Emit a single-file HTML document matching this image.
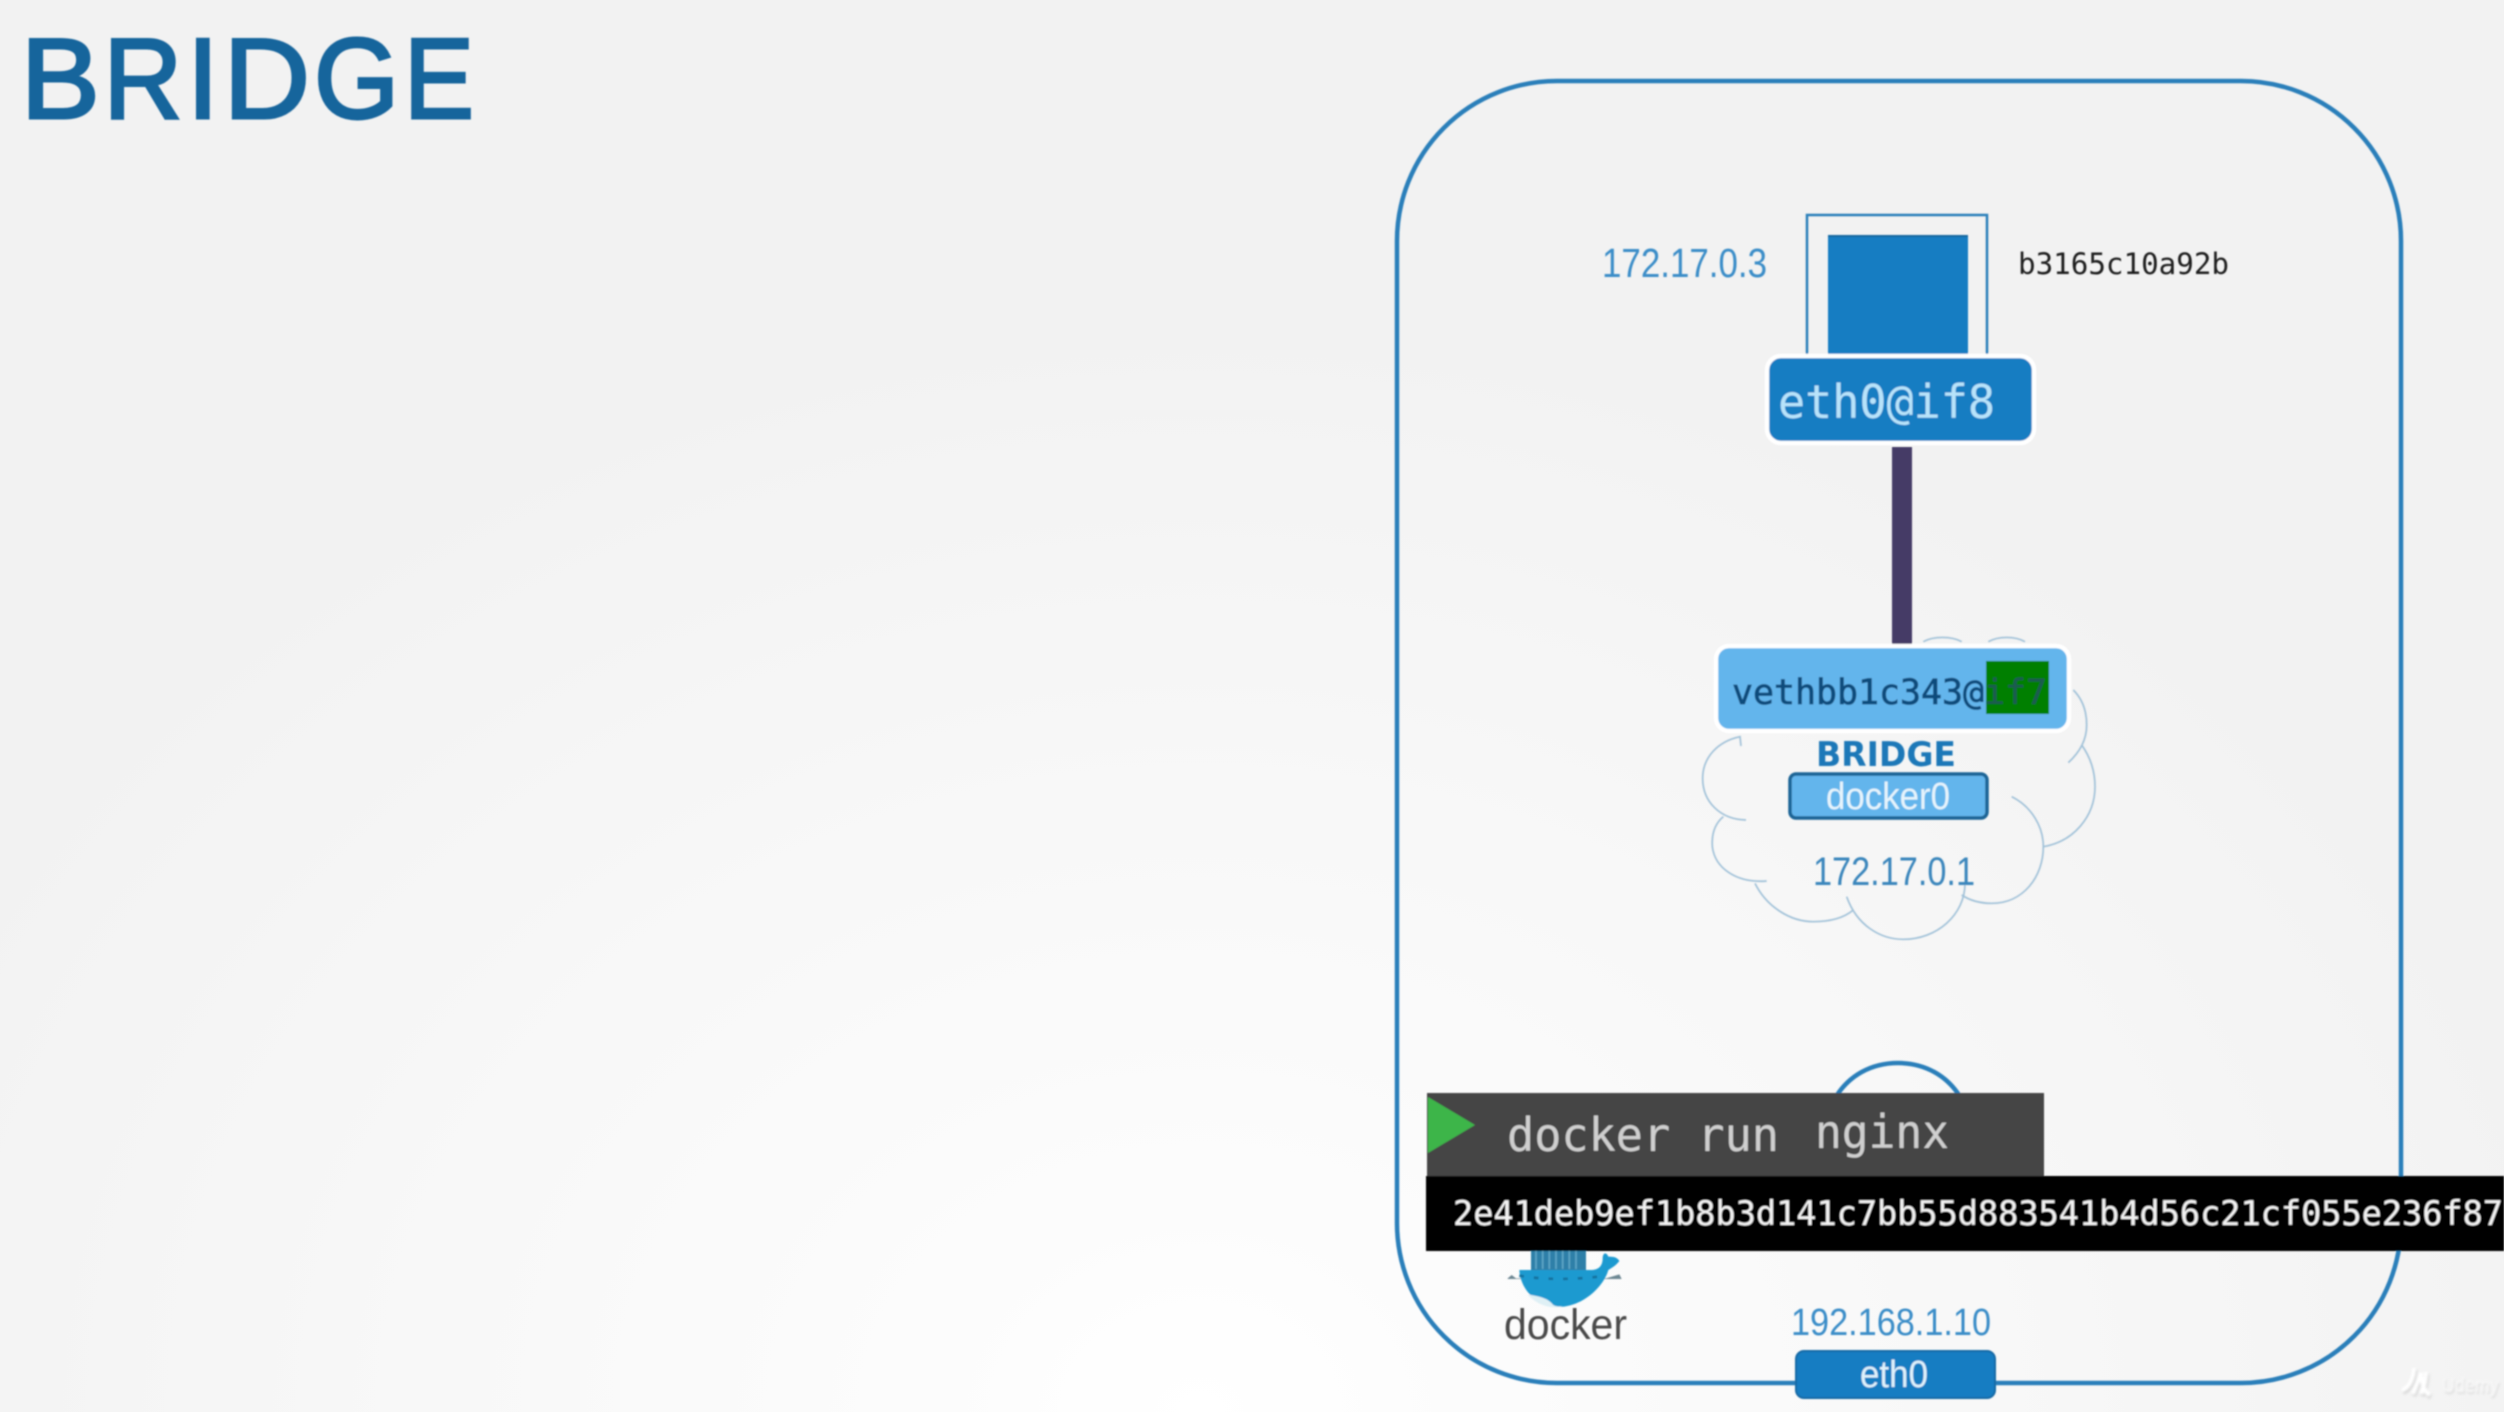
<!DOCTYPE html>
<html>
<head>
<meta charset="utf-8">
<style>
html,body{margin:0;padding:0;background:#f3f3f3;}
body{width:2504px;height:1412px;overflow:hidden;}
svg{display:block;}
.mono{font-family:"DejaVu Sans Mono","Liberation Mono",monospace;}
.sans{font-family:"Liberation Sans",sans-serif;}
.dv{font-family:"DejaVu Sans","Liberation Sans",sans-serif;}
</style>
</head>
<body>
<svg width="2504" height="1412" viewBox="0 0 2504 1412" xmlns="http://www.w3.org/2000/svg">
<defs>
<radialGradient id="bg" gradientUnits="userSpaceOnUse" cx="0" cy="0" r="1" gradientTransform="translate(1200 1412) scale(1400 1100)">
<stop offset="0" stop-color="#ffffff"/>
<stop offset=".2" stop-color="#fcfcfc"/>
<stop offset=".55" stop-color="#f8f8f8"/>
<stop offset="1" stop-color="#f2f2f2"/>
</radialGradient>
<filter id="soft" x="-5%" y="-5%" width="110%" height="110%"><feGaussianBlur stdDeviation="0.8"/></filter>
<filter id="wm" x="-20%" y="-20%" width="140%" height="140%"><feGaussianBlur stdDeviation="1.2"/></filter>
</defs>
<rect width="2504" height="1412" fill="#f2f2f2"/>
<rect width="2504" height="1412" fill="url(#bg)"/>
<g filter="url(#soft)">
<g class="sans" font-size="114" fill="#15659c" stroke="#15659c" stroke-width="3">
<text transform="translate(20.8 118) scale(1.04 1)">B</text>
<text transform="translate(103.5 118) scale(.957 1)">R</text>
<text transform="translate(187 118)">I</text>
<text transform="translate(223.6 118) scale(1.05 1)">D</text>
<text transform="translate(314 118) scale(.96 1)">G</text>
<text transform="translate(404 118) scale(.92 1)">E</text>
</g>

<rect x="1397" y="81" width="1004" height="1302" rx="160" ry="160" fill="none" stroke="#2a7fba" stroke-width="4.5"/>

<!-- container -->
<rect x="1807" y="215" width="180" height="150" fill="none" stroke="#2a7fba" stroke-width="2.5"/>
<rect x="1828" y="235" width="140" height="125" fill="#177dc2"/>
<rect x="1828" y="235" width="140" height="2" fill="#14689f"/>
<text class="sans" x="1602" y="277" font-size="41" fill="#3b8dc8" textLength="165" lengthAdjust="spacingAndGlyphs">172.17.0.3</text>
<text class="mono" x="2018" y="274" font-size="29" fill="#1c1c1c" textLength="211" lengthAdjust="spacingAndGlyphs">b3165c10a92b</text>
<rect x="1767" y="356" width="267" height="87" rx="14" fill="#177dc2" stroke="#ffffff" stroke-width="4.5"/>
<text class="mono" x="1778" y="418" font-size="46" fill="#b8e3fa" textLength="217" lengthAdjust="spacingAndGlyphs">eth0@if8</text>
<rect x="1892" y="447" width="20" height="198" fill="#453b66"/>

<!-- cloud -->
<g transform="translate(1660 620) scale(.33333)" fill="none" stroke="#a0c1d8" stroke-width="5">
<path d="M243 378L240 350C170 365 128 415 128 475C128 545 180 598 258 600"/>
<path d="M190 590C160 615 155 650 157 680C165 745 230 790 320 783"/>
<path d="M285 790C320 860 390 905 460 905C510 905 550 895 580 870"/>
<path d="M560 830C590 915 660 958 730 958C830 958 915 885 915 790"/>
<path d="M905 825C935 845 965 850 995 850C1090 850 1150 770 1150 680"/>
<path d="M1055 530C1115 560 1150 620 1150 680C1240 665 1305 590 1305 500C1305 450 1290 410 1265 375"/>
<path d="M1225 428C1260 395 1280 360 1280 315C1280 270 1265 235 1240 210"/>
<path d="M790 65C820 48 875 48 905 65"/>
<path d="M985 65C1015 48 1065 48 1095 65"/>
</g>

<rect x="1716" y="646" width="353" height="85" rx="13" fill="#64b5ec" stroke="#ffffff" stroke-width="4.5"/>
<rect x="1986" y="661" width="63" height="53" fill="#007f00"/>
<text class="mono" x="1732" y="704" font-size="35" fill="#0f4c7c" stroke="#0f4c7c" stroke-width=".8" textLength="315" lengthAdjust="spacingAndGlyphs">vethbb1c343@<tspan fill="#1a5c50" stroke="#1a5c50" stroke-width=".4">if7</tspan></text>
<text class="dv" x="1816" y="766" font-size="34" font-weight="bold" fill="#1f78b8" textLength="140" lengthAdjust="spacingAndGlyphs">BRIDGE</text>
<rect x="1790" y="774" width="197" height="44" rx="6" fill="#64b5ec" stroke="#1d6596" stroke-width="3.5"/>
<text class="sans" x="1826" y="809" font-size="38" fill="#e6f4fc" textLength="124" lengthAdjust="spacingAndGlyphs">docker0</text>
<text class="sans" x="1813" y="885" font-size="40" fill="#3b86bc" textLength="162" lengthAdjust="spacingAndGlyphs">172.17.0.1</text>

<!-- arc behind terminal -->
<path d="M1834 1100C1848 1075 1872 1063 1898 1063C1924 1063 1948 1075 1962 1100" fill="none" stroke="#2a7fba" stroke-width="4.5"/>

<!-- whale -->
<g transform="translate(1491 1245) scale(.33333)">
<rect x="120" y="10" width="165" height="65" fill="#2f7fa8"/>
<path d="M135 10V72M155 10V72M175 10V72M195 10V72M215 10V72M235 10V72M255 10V72" stroke="#5da6c6" stroke-width="5"/>
<path d="M50 100L62 90L75 100H345L385 88L392 102H50Z" fill="#6d8793"/>
<path d="M85 75H300C320 75 335 65 335 40C335 25 345 18 352 35C362 35 378 35 385 48C375 62 360 70 352 75C340 120 280 186 200 186C140 186 88 135 85 75Z" fill="#1f9ad0"/>
<path d="M110 148C140 153 170 158 185 178C190 183 200 185 215 184C180 194 135 178 110 148Z" fill="#dff0f5"/>
<path d="M85 92C160 105 250 105 345 92" fill="none" stroke="#14729f" stroke-width="8" stroke-dasharray="14 30"/>
</g>
<text class="sans" x="1504" y="1339" font-size="43" fill="#4a4a4a" textLength="123" lengthAdjust="spacingAndGlyphs">docker</text>

<!-- bottom -->
<text class="sans" x="1791" y="1335" font-size="38" fill="#3b8dc8" textLength="200" lengthAdjust="spacingAndGlyphs">192.168.1.10</text>
<rect x="1796" y="1351" width="199" height="47" rx="8" fill="#177dc2" stroke="#176ba6" stroke-width="2"/>
<text class="sans" x="1860" y="1387" font-size="38" fill="#dff1fb" textLength="68" lengthAdjust="spacingAndGlyphs">eth0</text>

<!-- terminal -->
<rect x="1427" y="1093" width="617" height="84" fill="#454545"/>
<polygon points="1428,1097 1475,1125 1428,1153" fill="#3cb54a"/>
<text class="mono" x="1507" y="1151" font-size="46" fill="#cfcfcf" textLength="272" lengthAdjust="spacingAndGlyphs">docker run</text>
<text class="mono" x="1815" y="1148" font-size="46" fill="#cfcfcf" textLength="134" lengthAdjust="spacingAndGlyphs">nginx</text>
<rect x="1426" y="1176" width="1078" height="75" fill="#000000"/>
<text class="mono" x="1453" y="1225" font-size="33.5" fill="#f2f2f2" textLength="1050" lengthAdjust="spacingAndGlyphs">2e41deb9ef1b8b3d141c7bb55d883541b4d56c21cf055e236f87</text>
</g>
<!-- watermark -->
<g filter="url(#wm)">
<path d="M2402 1390C2410 1388 2414 1376 2414 1368M2413 1394C2417 1384 2420 1376 2421 1373C2422 1384 2424 1392 2430 1395M2421 1394C2425 1386 2426 1376 2426 1372" fill="none" stroke="#d8d8d8" stroke-width="5" transform="translate(1 2)"/>
<path d="M2402 1390C2410 1388 2414 1376 2414 1368M2413 1394C2417 1384 2420 1376 2421 1373C2422 1384 2424 1392 2430 1395M2421 1394C2425 1386 2426 1376 2426 1372" fill="none" stroke="#ffffff" stroke-width="4"/>
<text class="sans" x="2443" y="1394" font-size="20" fill="#d8d8d8" textLength="57" lengthAdjust="spacingAndGlyphs">Udemy</text>
<text class="sans" x="2442" y="1392" font-size="20" fill="#fbfbfb" textLength="57" lengthAdjust="spacingAndGlyphs">Udemy</text>
</g>
</svg>
</body>
</html>
